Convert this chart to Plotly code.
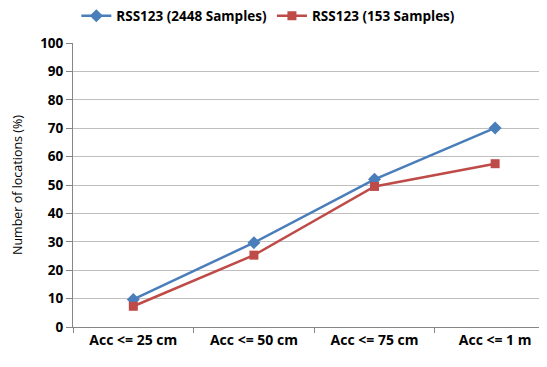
import plotly.graph_objects as go

categories = ["Acc <= 25 cm", "Acc <= 50 cm", "Acc <= 75 cm", "Acc <= 1 m"]
series_2448 = [9.7, 29.7, 52.0, 70.1]
series_153 = [7.3, 25.3, 49.5, 57.5]
y_ticks = [0, 10, 20, 30, 40, 50, 60, 70, 80, 90, 100]

FONT = "Open Sans"

fig = go.Figure()
fig.add_trace(go.Scatter(
    x=categories, y=series_2448, mode="lines+markers",
    name="RSS123 (2448 Samples)",
    line=dict(color="#4A7EBB", width=2.5),
    marker=dict(symbol="diamond", size=10, color="#4A7EBB"),
))
fig.add_trace(go.Scatter(
    x=categories, y=series_153, mode="lines+markers",
    name="RSS123 (153 Samples)",
    line=dict(color="#BE4B48", width=2.5),
    marker=dict(symbol="square", size=9, color="#BE4B48"),
))

fig.update_layout(
    width=539, height=359,
    margin=dict(l=65, r=0, t=35, b=40, autoexpand=False),
    paper_bgcolor="white", plot_bgcolor="white",
    font=dict(family=FONT, color="black", size=12),
    showlegend=True,
    legend=dict(orientation="h", xref="container", yref="container",
                x=0.483, xanchor="center", y=0.978, yanchor="middle",
                font=dict(size=13.5, family=FONT, weight="bold"),
                bgcolor="rgba(0,0,0,0)"),
)
fig.update_xaxes(
    type="category", range=[-0.5, 3.43], automargin=False,
    showline=True, linecolor="#868686", linewidth=1,
    ticks="outside", tickson="boundaries", ticklen=5, tickcolor="#868686",
    showgrid=False,
    tickfont=dict(size=14, family=FONT, weight="bold"),
)
fig.update_yaxes(
    range=[0, 100], tickvals=y_ticks, automargin=False,
    showline=True, linecolor="#868686", linewidth=1,
    ticks="outside", ticklen=6, tickcolor="#868686",
    showgrid=True, gridcolor="#BFBFBF", gridwidth=1,
    tickfont=dict(size=13.5, family=FONT, weight="bold"),
    title=dict(text="Number of locations (%)", font=dict(size=12.5, family=FONT), standoff=14),
    zeroline=False,
)

fig.write_html("out.html")
